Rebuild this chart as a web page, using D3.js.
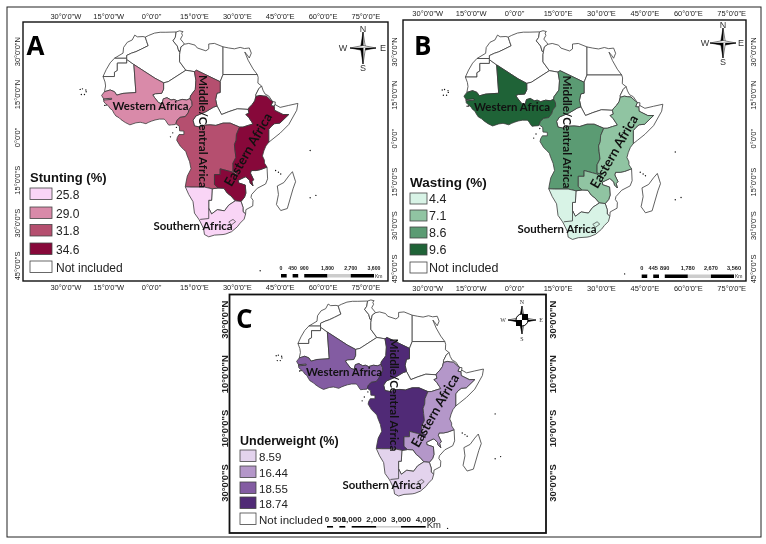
<!DOCTYPE html>
<html><head><meta charset="utf-8">
<style>html,body{margin:0;padding:0;background:#fff}svg{display:block;filter:blur(0.35px)}</style>
<script src="https://cdn.jsdelivr.net/npm/d3@7"></script>
</head><body><div id="c"></div>
<script>
// ---------- chart values ----------
const regionNames = ["Western", "Central", "Eastern", "Southern"];
const stuntingValues = [29.0, 31.8, 34.6, 25.8];
const wastingValues = [9.6, 8.6, 7.1, 4.4];
const underweightValues = [18.55, 18.74, 16.44, 8.59];
const stuntingLabels = ["25.8", "29.0", "31.8", "34.6"];
const wastingLabels = ["4.4", "7.1", "8.6", "9.6"];
const underweightLabels = ["8.59", "16.44", "18.55", "18.74"];
const stuntingColors = ["#f9d5f6", "#d98aa9", "#b54f6f", "#87083a"];
const wastingColors = ["#d8f3e6", "#90c4a2", "#5b9b73", "#1f6337"];
const underweightColors = ["#e3d3ed", "#b497c9", "#835ca2", "#502a76"];
const lonTicks = [-30, -15, 0, 15, 30, 45, 60, 75];
const latTicksAB = [30, 15, 0, -15, -30, -45];
const latTicksC = [30, 10, -10, -30];
const scaleA = [0, 450, 900, 1800, 2700, 3600];
const scaleB = [0, 445, 890, 1780, 2670, 3560];
const scaleC = [0, 500, 1000, 2000, 3000, 4000];

// ---------- outlines, lon/lat ----------
const western = [[-16.5,16],[-17.5,14.7],[-16.8,13.5],[-16.7,12.4],[-16.2,11.9],[-15,10.9],[-14.6,10.2],[-13.7,9.5],[-13.2,8.5],[-12.5,7.5],[-11.4,6.9],[-10.8,6.3],[-9.2,5.2],[-7.6,4.4],[-5.5,5.1],[-4,5.3],[-3.1,5.1],[-2,4.8],[-1,5.3],[0,5.7],[1.2,6.1],[2.7,6.4],[4.4,6.4],[5,5.8],[5.4,5.1],[6,4.3],[7,4.4],[8.3,4.5],[8.5,4.8],[8.9,6],[10,7],[11.8,7.3],[12.8,8.6],[13.2,9.9],[14.2,11.2],[14.1,12.5],[13.5,13.6],[12.3,13.1],[10.7,13.3],[9,12.8],[7.8,13.3],[6.8,13.1],[5.4,13.9],[4.1,13.5],[3.6,11.7],[2.4,12.2],[1,14],[0.4,14.9],[1.3,15.3],[3.5,15.4],[4.2,16.9],[4.2,19.1],[1.2,20.7],[-6.2,25.5],[-5.5,15.7],[-10,15.4],[-12.2,14.8],[-13,16],[-14.5,16.6]];
const central = [[15,23],[15.7,23.5],[24,19.5],[24,15.7],[22.9,15.5],[22.4,13.3],[22.9,11],[21.7,10.6],[19,9],[15.5,7.5],[14.5,6],[15,4],[17,3.6],[18.6,4.3],[20.5,4.4],[22.5,4.2],[25,5],[27.5,5],[30.8,3.6],[29.7,1],[29.6,-1],[29,-2.5],[29.2,-4.5],[29.5,-7],[28.5,-9],[28.5,-11.8],[29.8,-12.2],[29.8,-13.4],[28.4,-12.2],[27,-11.8],[24,-11],[24,-13],[22,-13],[22,-16.5],[23.3,-17.7],[21.2,-18],[18.5,-17.4],[13.8,-17.4],[11.8,-17.3],[12,-16],[12.5,-13.5],[13.8,-11],[13.3,-8.5],[12.3,-6],[12,-5],[11,-4],[10,-3],[8.8,-1],[9,0],[9.6,1],[11.3,1],[11.3,2.2],[9.8,2.3],[9.7,3.9],[8.5,4.8],[8.9,6],[10,7],[11.8,7.3],[12.8,8.6],[13.2,9.9],[14.2,11.2],[14.1,12.5],[13.5,13.6],[13.6,14.5],[15.3,16.8],[15.5,20]];
const eastern = [[30.8,3.6],[32,3.6],[33.8,4.2],[35.5,4.7],[35,5.5],[34,7],[33,8],[34.1,8.5],[33.8,9.8],[34.2,10.5],[35.2,11.5],[36.1,12.8],[36.5,14.3],[37.9,14.7],[39,14.5],[40.2,14.4],[41.7,13],[42.4,12.5],[41.8,11.1],[42.9,10.9],[43,9.5],[44,9],[46,8],[48,8],[44.9,5],[43,4.8],[41.9,3.9],[41,2.8],[41,-1.7],[40,-3],[39.3,-4.7],[38.8,-6.5],[39.5,-8],[39.5,-9],[40.4,-10.4],[38,-11.3],[36.5,-11.6],[34.9,-11.6],[34.6,-12.5],[35.7,-14.8],[35.1,-15.5],[35.5,-17],[34.5,-16],[34.3,-15],[33.2,-14],[32.8,-13.8],[30.3,-15],[30.4,-15.9],[32.8,-16.7],[33,-19.5],[32.5,-21],[31.3,-22.4],[29.3,-22.2],[27.8,-20.5],[26.5,-19.5],[25.3,-17.8],[23.3,-17.7],[22,-16.5],[22,-13],[24,-13],[24,-11],[27,-11.8],[28.4,-12.2],[29.8,-13.4],[29.8,-12.2],[28.5,-11.8],[28.5,-9],[29.5,-7],[29.2,-4.5],[29,-2.5],[29.6,-1],[29.7,1]];
const southern = [[11.8,-17.3],[13.8,-17.4],[18.5,-17.4],[21.2,-18],[21,-22],[20,-22],[20,-24.8],[21,-26.8],[23,-25.3],[25.5,-25.7],[27,-23.7],[29.3,-22.2],[31.3,-22.4],[32,-24.5],[32,-26],[32.9,-26.8],[32.4,-28.6],[31,-30],[30,-31.3],[28,-33],[26,-33.8],[25,-34],[22,-34.2],[20,-34.8],[18.5,-34],[18.2,-32],[17,-29.5],[16.5,-28.6],[15,-26.5],[14.5,-22.5],[13,-20]];
const namibiaBorder = [[20,-24.8],[20,-28.4],[17,-28.7]];
const lesotho = [[27,-29.6],[28.5,-28.7],[29.4,-29.5],[28,-30.6]];
const morocco = [[-5.9,35.8],[-5,35.2],[-3,35.3],[-2.2,35.1],[-1.7,33.5],[-1.2,32.1],[-3.6,30.9],[-5.5,30],[-7,29.5],[-8.7,28.7],[-8.7,27.7],[-13,27.7],[-10,29.5],[-9.8,31.5],[-8.5,33.3],[-6.8,34.1]];
const westernSahara = [[-13,27.7],[-8.7,27.7],[-8.7,26],[-12,26],[-12,23.4],[-13,22.8],[-13,21.3],[-17,21.3],[-15.9,23.7],[-14.5,26.1]];
const mauritania = [[-17,21.3],[-13,21.3],[-13,22.8],[-12,23.4],[-12,26],[-8.7,26],[-8.7,27.3],[-6.2,25.5],[-5.5,15.7],[-10,15.4],[-12.2,14.8],[-13,16],[-14.5,16.6],[-16.5,16],[-16.1,18],[-16.3,19.4]];
const algeria = [[-2.2,35.1],[-1,35.7],[1,36.5],[3,36.8],[5,36.8],[8.6,36.9],[8.3,35],[7.5,33.8],[9,32],[9.5,30.2],[10,30],[9.8,29],[9.8,26.5],[12,23.5],[5.8,19.5],[4.2,19.1],[1.2,20.7],[-6.2,25.5],[-8.7,27.3],[-8.7,28.7],[-7,29.5],[-5.5,30],[-3.6,30.9],[-1.2,32.1],[-1.7,33.5]];
const tunisia = [[8.6,36.9],[9.8,37.3],[11,37],[10.5,36.5],[10.8,35.7],[10.1,34.4],[11.1,33.2],[11.5,32.6],[10.3,31.7],[10,30.2],[9.5,30.2],[9,32],[7.5,33.8],[8.3,35]];
const libya = [[11.5,32.6],[13,32.9],[15.2,32.3],[16,31.3],[19,30.3],[20,31],[20,32.7],[22,32.9],[25,31.7],[25,22],[24,19.5],[15.7,23.5],[15,23],[12,23.5],[9.8,26.5],[9.8,29],[10,30.2],[10.3,31.7]];
const egypt = [[25,31.7],[27,31.3],[29,31],[31,31.5],[32.5,31.1],[34.2,31.3],[34.9,29.5],[34.2,27.8],[33.5,28.8],[32.6,29.9],[33.8,27],[35.5,24],[37,22],[25,22]];
const sudan = [[24,19.5],[24,15.7],[22.9,15.5],[22.4,13.3],[22.9,11],[24.5,8],[27,9],[30,10],[33.8,9.8],[34.2,10.5],[35.2,11.5],[36.1,12.8],[36.5,14.3],[36.5,15],[37.5,17],[38.5,18],[37.2,19],[37.3,21],[37,22],[25,22]];
const eritrea = [[36.5,14.3],[37.9,14.7],[39,14.5],[40.2,14.4],[41.7,13],[42.4,12.5],[41,14.5],[39.7,15.2],[39,16.5],[38.5,18],[37.5,17],[36.5,15]];
const djibouti = [[42.4,12.5],[43.3,12.4],[43.2,11.5],[42.9,10.9],[41.8,11.1]];
const somalia = [[43.2,11.5],[45,10.5],[48,11.2],[51.2,11.9],[50.8,9.5],[48,4.5],[45,1.5],[42.5,-0.5],[41,-1.7],[41,2.8],[41.9,3.9],[43,4.8],[44.9,5],[48,8],[46,8],[44,9],[43,9.5],[42.9,10.9]];
const niger = [[13.5,13.6],[13.6,14.5],[15.3,16.8],[15.5,20],[15,23],[12,23.5],[5.8,19.5],[4.2,19.1],[4.2,16.9],[3.5,15.4],[1.3,15.3],[0.4,14.9],[1,14],[2.4,12.2],[3.6,11.7],[4.1,13.5],[5.4,13.9],[6.8,13.1],[7.8,13.3],[9,12.8],[10.7,13.3],[12.3,13.1]];
const carSouthSudan = [[22.9,11],[24.5,8],[27,9],[30,10],[33.8,9.8],[34.1,8.5],[33,8],[34,7],[35,5.5],[35.5,4.7],[33.8,4.2],[32,3.6],[30.8,3.6],[27.5,5],[25,5],[22.5,4.2],[20.5,4.4],[18.6,4.3],[17,3.6],[15,4],[14.5,6],[15.5,7.5],[19,9],[21.7,10.6]];
const botswana = [[20,-22],[21,-22],[21.2,-18],[23.3,-17.7],[25.3,-17.8],[26.5,-19.5],[27.8,-20.5],[29.3,-22.2],[27,-23.7],[25.5,-25.7],[23,-25.3],[21,-26.8],[20,-24.8]];
const mozambique = [[34.9,-11.6],[36.5,-11.6],[38,-11.3],[40.4,-10.4],[40.6,-14.5],[39.9,-16.3],[37,-17.8],[35,-20],[34.8,-21],[35.5,-22],[35.4,-24],[33,-25.3],[32.9,-26.8],[32,-26],[32,-24.5],[31.3,-22.4],[32.5,-21],[33,-19.5],[32.8,-16.7],[30.4,-15.9],[30.3,-15],[32.8,-13.8],[33.2,-14],[34.3,-15],[34.5,-16],[35.5,-17],[35.1,-15.5],[35.7,-14.8],[34.6,-12.5]];
const madagascar = [[49.3,-12],[50.4,-15.5],[49.5,-18],[47.5,-24.9],[45.2,-25.6],[43.7,-23.5],[44.4,-20],[44,-17],[46.3,-15.8],[48,-13.5]];
const gambia = [[-16.8,13.5],[-14,13.7],[-14,13.3],[-16.7,13.1]];
const islands = [[-24.2,17],[-23,16.6],[-22.9,16],[-23.5,15],[-24.6,15],[-25,16.8],[8.7,3.5],[6.6,0.2],[7.4,1.6],[-16.4,11.2],[-15.9,11.3],[43.4,-11.6],[44.4,-12.2],[45.2,-12.8],[55.5,-4.6],[57.5,-20.3],[55.5,-21.1],[38,-46.7]];

const whiteLand = [morocco, westernSahara, mauritania, algeria, tunisia, libya, egypt, sudan, eritrea, djibouti, somalia, niger, carSouthSudan, botswana, mozambique, madagascar];
const regionShapes = [western, central, eastern, southern];

// ---------- drawing ----------
const svg = d3.select("#c").append("svg").attr("width", 766).attr("height", 544)
  .style("font-family", "'Liberation Sans',Arial,sans-serif");
svg.append("rect").attr("width", 766).attr("height", 544).attr("fill", "#fff");
svg.append("rect").attr("x", 7).attr("y", 7).attr("width", 754).attr("height", 530)
  .attr("fill", "none").attr("stroke", "#222").attr("stroke-width", 1);

const fmt = (v, s) => Math.abs(v) + "°0'0\"" + (v === 0 ? "" : s[v > 0 ? 0 : 1]);
const poly = c => ({type: "Polygon", coordinates: [c.concat([c[0]])]});

function star(g, cx, cy, ns, ew, w) {
  const arms = [[0,-ns],[ew,0],[0,ns],[-ew,0]];
  arms.forEach(([ax, ay], i) => {
    const px = ay ? w : 0, py = ax ? w : 0;
    g.append("path").attr("d", d3.line()([[cx,cy],[cx+ax,cy+ay],[cx+px,cy+py]])).attr("fill", i % 2 ? "#000" : "#fff").attr("stroke", "#000").attr("stroke-width", .5);
    g.append("path").attr("d", d3.line()([[cx,cy],[cx+ax,cy+ay],[cx-px,cy-py]])).attr("fill", i % 2 ? "#fff" : "#000").attr("stroke", "#000").attr("stroke-width", .5);
  });
}

function panel(o) {
  const g = svg.append("g");
  const [fx0, fy0, fx1, fy1] = o.frame;
  g.append("rect").attr("x", fx0).attr("y", fy0).attr("width", fx1 - fx0).attr("height", fy1 - fy0)
    .attr("fill", "#fff").attr("stroke", "#111").attr("stroke-width", o.frameW);

  const proj = d3.geoIdentity().reflectY(true).scale(o.k).translate([o.x0, o.y0]);
  const path = d3.geoPath(proj).pointRadius(0.7);
  const color = d3.scaleOrdinal(o.labels.map(Number), o.colors);
  const px = v => proj([v, 0])[0], py = v => proj([0, v])[1];

  whiteLand.forEach(c => g.append("path").attr("d", path(poly(c))).attr("fill", "#fff").attr("stroke", "#3a3a3a").attr("stroke-width", .8));
  regionShapes.forEach((c, i) => g.append("path").attr("d", path(poly(c))).attr("fill", color(o.values[i])).attr("stroke", "#3a3a3a").attr("stroke-width", .8).attr("stroke-linejoin", "round"));
  g.append("path").attr("d", path({type: "LineString", coordinates: namibiaBorder})).attr("fill", "none").attr("stroke", "#3a3a3a").attr("stroke-width", .8);
  g.append("path").attr("d", path(poly(lesotho))).attr("fill", color(o.values[3])).attr("stroke", "#3a3a3a").attr("stroke-width", .7);
  g.append("path").attr("d", path(poly(gambia))).attr("fill", "#fff").attr("stroke", "#222").attr("stroke-width", .8);
  g.append("path").attr("d", path({type: "MultiPoint", coordinates: islands})).attr("fill", "#111");

  // graticule labels
  if (o.lonLabels) {
    o.lonLabels.forEach(y => g.selectAll(null).data(lonTicks).join("text")
      .attr("x", px).attr("y", y).attr("text-anchor", "middle")
      .attr("font-size", 7.5).attr("fill", "#222")
      .text(d => fmt(d, "EW")));
  }
  o.latX.forEach(x => g.selectAll(null).data(o.latTicks).join("text")
    .attr("transform", d => `translate(${x},${py(d)}) rotate(-90)`)
    .attr("text-anchor", "middle").attr("font-size", o.latFont).attr("font-weight", o.latWeight).attr("fill", "#222")
    .text(d => fmt(d, "NS")));

  // panel letter
  g.append("text").attr("x", o.letter[1]).attr("y", o.letter[2]).attr("font-family", "'Open Sans',sans-serif")
    .attr("font-weight", 700).attr("font-size", 26).attr("fill", "#000").text(o.letter[0]);

  // region names
  const lab = (t, x, y, a, fs) => g.append("text")
    .attr("transform", `translate(${x},${y}) rotate(${a})`).attr("text-anchor", "middle")
    .attr("font-family", "Lato,sans-serif").attr("font-weight", 700).attr("font-size", fs).attr("fill", "#111").text(t);
  lab("Western Africa", ...o.wLabel, 0, 11.4);
  lab("Southern Africa", ...o.sLabel, 0, 11.4);
  lab("Middle/Central Africa", ...o.mLabel, 90, 11.7);
  lab("Eastern Africa", ...o.eLabel, -60, 13.2);

  // legend
  const lg = o.legend;
  g.append("text").attr("x", lg.x).attr("y", lg.titleY).attr("font-weight", 700).attr("font-size", lg.titleFont).attr("fill", "#111").text(lg.title);
  const rows = o.labels.concat(["Not included"]);
  const rowFill = o.colors.concat(["#fff"]);
  rows.forEach((t, i) => {
    g.append("rect").attr("x", lg.x).attr("y", lg.ys[i]).attr("width", lg.w).attr("height", lg.h)
      .attr("fill", rowFill[i]).attr("stroke", "#444").attr("stroke-width", .8);
    g.append("text").attr("x", lg.x + lg.w + lg.gap).attr("y", lg.ys[i] + lg.h - 1).attr("font-size", lg.font).attr("fill", "#222").text(t);
  });

  // scale bar
  const sb = o.bar, sx = d3.scaleLinear([0, sb.ticks[5]], [sb.x0, sb.x1]);
  const t = sb.ticks, half = t[1] / 2;
  const segs = [[0, half, "#000"], [half, t[1], "#fff"], [t[1], t[1] + half, "#000"], [t[1] + half, t[2], "#fff"],
                [t[2], t[3], "#000"], [t[3], t[4], "#ccc"], [t[4], t[5], "#000"]];
  segs.forEach(s => g.append("rect").attr("x", sx(s[0])).attr("y", sb.y).attr("width", sx(s[1]) - sx(s[0])).attr("height", sb.h).attr("fill", s[2]));
  g.selectAll(null).data(t).join("text").attr("x", sx).attr("y", sb.textY).attr("text-anchor", "middle")
    .attr("font-size", sb.font).attr("font-weight", 700).attr("fill", "#222").text(d3.format(","));
  g.append("text").attr("x", sb.x1 + 1).attr("y", sb.y + sb.h).attr("font-size", sb.kmFont).attr("fill", "#222").text("Km");

  // compass
  const cp = o.compass, cg = g.append("g");
  star(cg, cp.x, cp.y, cp.ns, cp.ew, cp.w);
  if (cp.disc) {
    cg.append("circle").attr("cx", cp.x).attr("cy", cp.y).attr("r", 6).attr("fill", "#fff").attr("stroke", "#000");
    [[0, -6], [-6, 0]].forEach(q => cg.append("rect").attr("x", cp.x + q[0]).attr("y", cp.y + q[1]).attr("width", 6).attr("height", 6).attr("fill", "#000"));
  }
  [["N", 0, -cp.r], ["S", 0, cp.r], ["W", -cp.rx, 0], ["E", cp.rx, 0]].forEach(d =>
    cg.append("text").attr("x", cp.x + d[1]).attr("y", cp.y + d[2] + cp.font * .36).attr("text-anchor", "middle")
      .attr("font-size", cp.font).attr("font-family", cp.disc ? "'Liberation Serif',serif" : null).attr("fill", "#333").text(d[0]));
}

panel({
  frame: [23, 22, 388, 281], frameW: 1.4, k: 2.857, x0: 151.6, y0: 137.4,
  values: stuntingValues, labels: stuntingLabels, colors: stuntingColors,
  lonLabels: [18.5, 290], latX: [19.5], latTicks: latTicksAB, latFont: 7.5, latWeight: 400,
  letter: ["A", 26.5, 55],
  wLabel: [150.5, 110], sLabel: [193, 230], mLabel: [199, 131.5], eLabel: [252, 152],
  legend: {title: "Stunting (%)", x: 30, titleY: 182, titleFont: 13, w: 22, h: 11.5, gap: 4, font: 12,
           ys: [188, 207, 224.5, 243, 261]},
  bar: {x0: 281, x1: 374, y: 274, h: 3.5, textY: 270, font: 5.2, ticks: scaleA, kmFont: 5},
  compass: {x: 363, y: 48, ns: 16, ew: 13, w: 2.5, r: 19.5, rx: 20, font: 9}
});
panel({
  frame: [403, 20, 746, 281], frameW: 1.4, k: 2.895, x0: 514.6, y0: 138.7,
  values: wastingValues, labels: wastingLabels, colors: wastingColors,
  lonLabels: [16, 291], latX: [397, 756], latTicks: latTicksAB, latFont: 7.5, latWeight: 400,
  letter: ["B", 414, 55],
  wLabel: [512, 111], sLabel: [557, 233], mLabel: [563, 132], eLabel: [618, 154],
  legend: {title: "Wasting (%)", x: 410, titleY: 187, titleFont: 13.5, w: 17, h: 11, gap: 2, font: 12.5,
           ys: [193, 210, 227, 244, 262]},
  bar: {x0: 641.7, x1: 734, y: 274.5, h: 3.5, textY: 270, font: 5.6, ticks: scaleB, kmFont: 5},
  compass: {x: 723, y: 43, ns: 15, ew: 13, w: 2.5, r: 18.5, rx: 18, font: 9}
});
panel({
  frame: [229.5, 294.5, 546, 533], frameW: 1.8, k: 2.72, x0: 344.2, y0: 401.4,
  values: underweightValues, labels: underweightLabels, colors: underweightColors,
  lonLabels: null, latX: [227.5, 556], latTicks: latTicksC, latFont: 9.4, latWeight: 700,
  letter: ["C", 236, 328],
  wLabel: [344, 376], sLabel: [382, 489], mLabel: [390, 395], eLabel: [439, 413],
  legend: {title: "Underweight (%)", x: 240, titleY: 445, titleFont: 12.5, w: 16, h: 11.5, gap: 3, font: 11.5,
           ys: [450, 466, 482, 497, 513]},
  bar: {x0: 327, x1: 425.7, y: 526, h: 1.6, textY: 522, font: 8, ticks: scaleC, kmFont: 9.5},
  compass: {x: 522, y: 320, ns: 14, ew: 14, w: 3, r: 18.5, rx: 19, font: 6, disc: true}
});
</script></body></html>
